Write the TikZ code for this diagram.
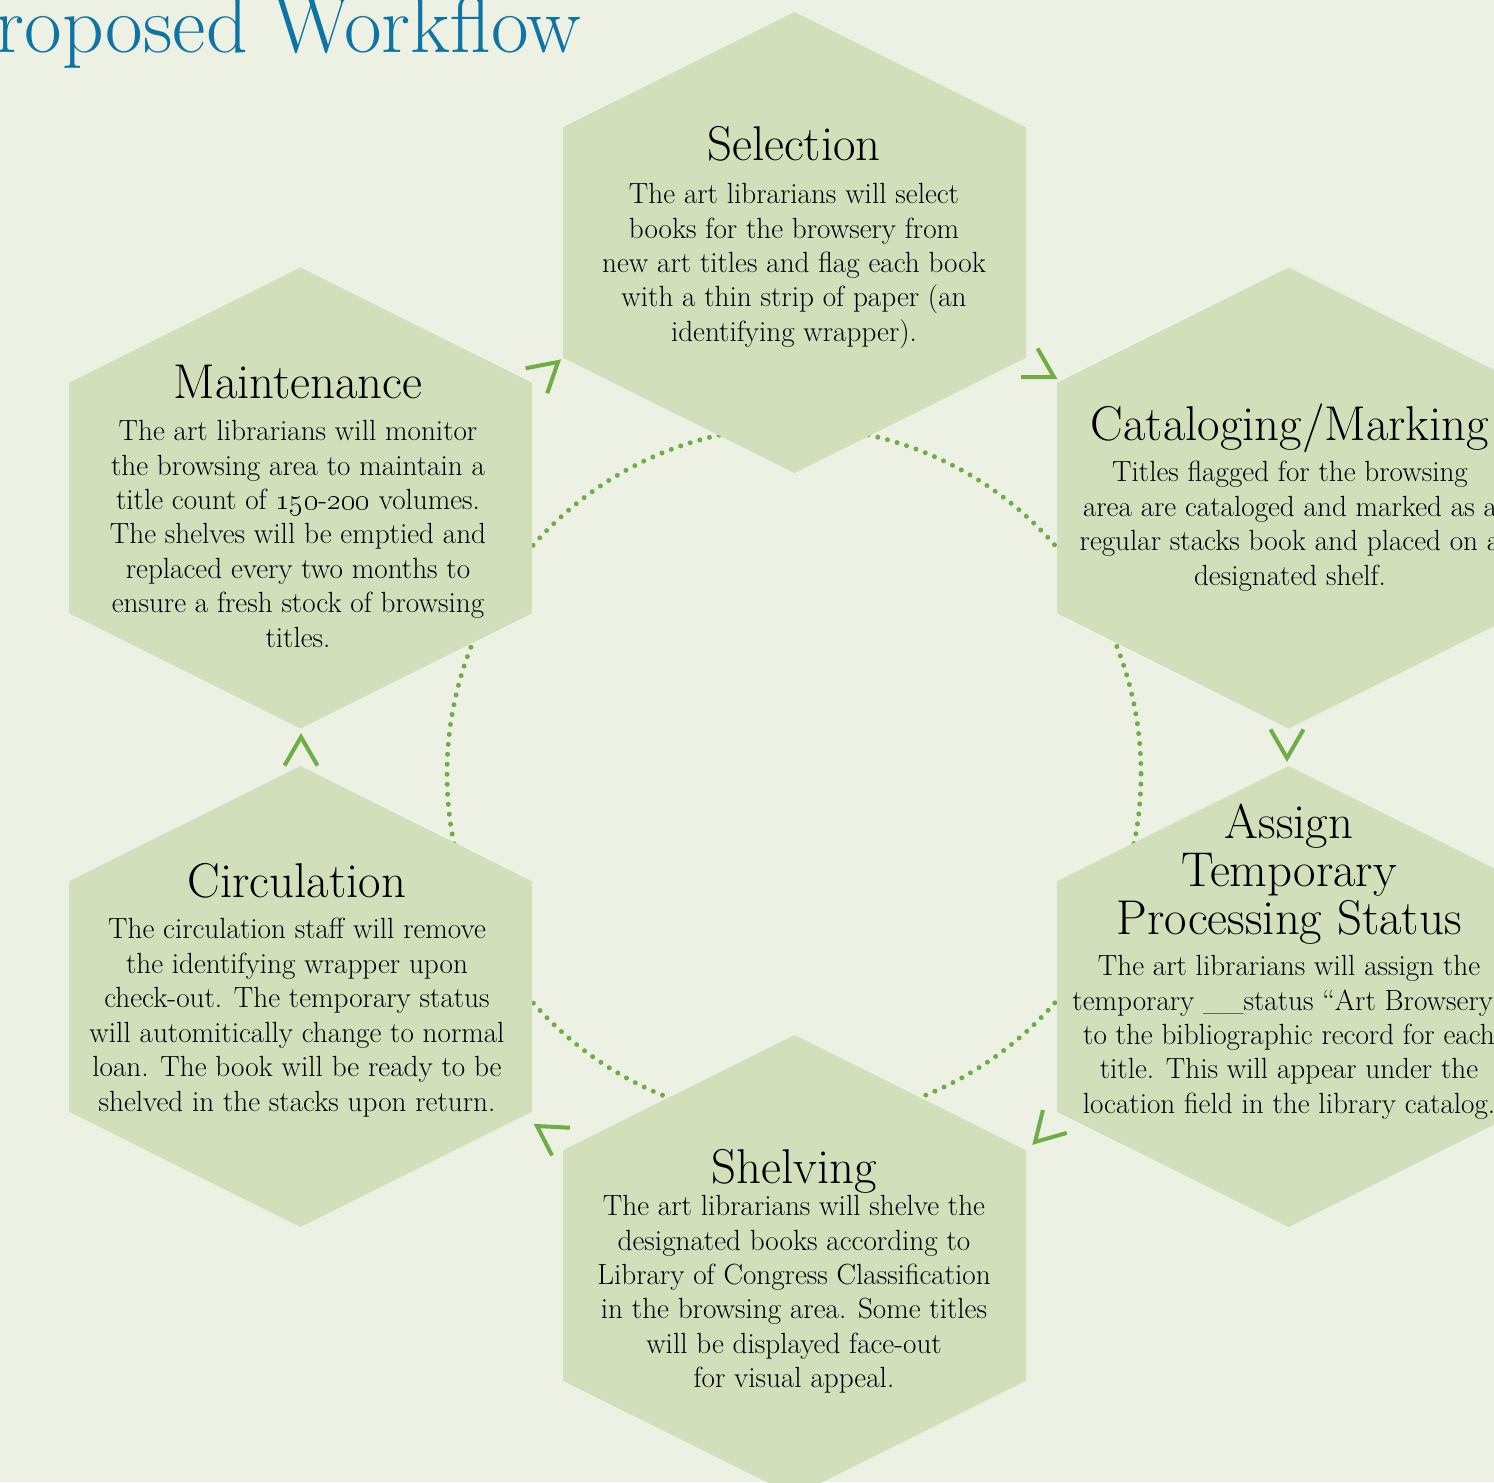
\documentclass[tikz,border=0pt]{standalone}
\definecolor{page bg}{RGB}{237,241,227}
\definecolor{cell area}{RGB}{209,223,187}
\definecolor{ring green}{RGB}{112,173,71}
\definecolor{title blue}{RGB}{14,116,163}
\tikzset{
  cell/.style={fill=cell area},
  ring/.style={draw=ring green, line width=1mm, dash pattern=on 0pt off 2mm, line cap=round},
  chevron/.style={draw=ring green, line width=0.8mm},
  heading/.style={font=\fontsize{27.8}{27.3}\selectfont, align=center, inner sep=0pt},
  bodytext/.style={font=\fontsize{16.6}{19.6}\selectfont, align=center, inner sep=0pt},
  wftitle/.style={font=\fontsize{46.5}{50}\selectfont, text=title blue, inner sep=0pt}
}
% stretched hexagon round a named centre
\newcommand{\hexat}[1]{\fill[cell] (#1) +(0,-230.5) -- +(231.5,-115.25) -- +(231.5,115.25)
  -- +(0,230.5) -- +(-231.5,115.25) -- +(-231.5,-115.25) -- cycle;}
% open arrow head: tip x, tip y, direction
\newcommand{\chev}[3]{\draw[chevron] (#1,#2) ++(#3+150:33) -- (#1,#2) -- ++(#3-150:33);}

\begin{document}
\begin{tikzpicture}[x=0.2mm, y=-0.2mm]
  \useasboundingbox (0,0) rectangle (1494,1482);
  \clip (0,0) rectangle (1494,1482);
  \fill[page bg] (0,0) rectangle (1494,1482);

  \draw[ring] (794,774) circle (347);

  \coordinate (sel) at (794.5,242.5);
  \coordinate (cat) at (1288.5,498);
  \coordinate (asg) at (1288.5,996.5);
  \coordinate (shl) at (794.5,1265.5);
  \coordinate (cir) at (300.5,996.5);
  \coordinate (mnt) at (300.5,498);
  \foreach \c in {sel,cat,asg,shl,cir,mnt} {\hexat{\c}}

  % selection
  \node[heading, anchor=base] (selHead) at (794,160) {Selection};
  \node[bodytext, anchor=north] (selText) at (794,183) {The art librarians will select\\books for the browsery from\\new art titles and flag each book\\with a thin strip of paper (an\\identifying wrapper).};

  % cataloging
  \node[heading, anchor=base] (catHead) at (1290,440) {Cataloging/Marking};
  \node[bodytext, anchor=north] (catText) at (1290,461) {Titles flagged for the browsing\\area are cataloged and marked as a\\regular stacks book and placed on a\\designated shelf.};

  % temporary status
  \node[heading, anchor=north] (asgHead) at (1289,804) {Assign\\Temporary\\Processing Status};
  \node[bodytext, anchor=north] (asgText) at (1289,955) {The art librarians will assign the\\temporary \_\_status ``Art Browsery''\\to the bibliographic record for each\\title. This will appear under the\\location field in the library catalog.};

  % shelving
  \node[heading, anchor=base] (shlHead) at (794,1183) {Shelving};
  \node[bodytext, anchor=north] (shlText) at (794,1195) {The art librarians will shelve the\\designated books according to\\Library of Congress Classification\\in the browsing area. Some titles\\will be displayed face-out\\for visual appeal.};

  % circulation
  \node[heading, anchor=base] (cirHead) at (297,897) {Circulation};
  \node[bodytext, anchor=north] (cirText) at (297,918) {The circulation staff will remove\\the identifying wrapper upon\\check-out. The temporary status\\will automitically change to normal\\loan. The book will be ready to be\\shelved in the stacks upon return.};

  % maintenance
  \node[heading, anchor=base] (mntHead) at (298,398) {Maintenance};
  \node[bodytext, anchor=north] (mntText) at (298,420) {The art librarians will monitor\\the browsing area to maintain a\\title count of \oldstylenums{150}-\oldstylenums{200} volumes.\\The shelves will be emptied and\\replaced every two months to\\ensure a fresh stock of browsing\\titles.};

  % arrow heads round the ring
  \chev{558}{362}{-41}
  \chev{1054}{377}{30}
  \chev{1287}{758}{90}
  \chev{1035}{1142}{134}
  \chev{537}{1126}{-147}
  \chev{301}{737}{-90}

  \node[wftitle, anchor=base west] (wfTitle) at (-56,52) {Proposed Workflow};
\end{tikzpicture}
\end{document}
